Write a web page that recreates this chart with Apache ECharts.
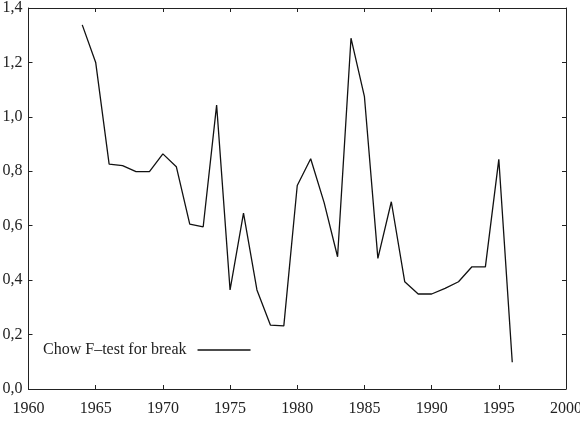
<!DOCTYPE html>
<html>
<head>
<meta charset="utf-8">
<script src="https://cdn.jsdelivr.net/npm/echarts@6/dist/echarts.min.js"></script>
<style>
  html, body { margin: 0; padding: 0; background: #fff; }
  #chart { width: 580px; height: 426px; }
</style>
</head>
<body>
<div id="chart"></div>
<script>
// years and Chow F-test values
const years = [1964, 1965, 1966, 1967, 1968, 1969, 1970, 1971, 1972, 1973, 1974, 1975, 1976, 1977, 1978, 1979, 1980,
  1981, 1982, 1983, 1984, 1985, 1986, 1987, 1988, 1989, 1990, 1991, 1992, 1993, 1994, 1995, 1996];
const chowF = [1.338, 1.200, 0.826, 0.821, 0.799, 0.799, 0.864, 0.817, 0.606, 0.596, 1.043, 0.364, 0.646, 0.364, 0.235, 0.232, 0.748,
  0.846, 0.685, 0.486, 1.289, 1.074, 0.480, 0.688, 0.394, 0.349, 0.349, 0.370, 0.394, 0.449, 0.449, 0.844, 0.098];
const seriesName = 'Chow F\u2013test for break';
const xTicks = { min: 1960, max: 2000, step: 5 };
const yTicks = { min: 0, max: 1.4, step: 0.2 };

const font = 'Liberation Serif';
const chart = echarts.init(document.getElementById('chart'));

const axisCommon = {
  axisLine: { show: true, onZero: false, lineStyle: { color: '#222', width: 1 } },
  axisTick: { show: true, inside: true, length: 4, lineStyle: { color: '#222' } },
  splitLine: { show: false }
};

const option = {
  animation: false,
  backgroundColor: '#fff',
  textStyle: { fontFamily: font },
  grid: { left: 28.5, right: 14, top: 8, bottom: 37, outerBoundsMode: 'none', containLabel: false },
  legend: {
    left: 38, top: 337,
    align: 'right',
    icon: 'rect',
    itemWidth: 53, itemHeight: 1.5,
    itemGap: 0,
    textStyle: { fontFamily: font, fontSize: 16, color: '#222', padding: [0, 6, 0, 0] },
    data: [seriesName]
  },
  xAxis: [
    Object.assign({
      type: 'value', min: xTicks.min, max: xTicks.max, interval: xTicks.step,
      axisLabel: { fontFamily: font, fontSize: 16, color: '#222', margin: 12, formatter: v => String(v) }
    }, axisCommon),
    Object.assign({
      type: 'value', position: 'top', min: xTicks.min, max: xTicks.max, interval: xTicks.step,
      axisLabel: { show: false }
    }, axisCommon)
  ],
  yAxis: [
    Object.assign({
      type: 'value', min: yTicks.min, max: yTicks.max, interval: yTicks.step,
      axisLabel: {
        fontFamily: font, fontSize: 16, color: '#222', margin: 6,
        formatter: v => v.toFixed(1).replace('.', ',')
      }
    }, axisCommon),
    Object.assign({
      type: 'value', position: 'right', min: yTicks.min, max: yTicks.max, interval: yTicks.step,
      axisLabel: { show: false }
    }, axisCommon)
  ],
  series: [{
    name: seriesName,
    type: 'line',
    showSymbol: false,
    itemStyle: { color: '#111' },
    lineStyle: { color: '#111', width: 1.3 },
    data: years.map((y, i) => [y, chowF[i]])
  }]
};

chart.setOption(option);
</script>
</body>
</html>
